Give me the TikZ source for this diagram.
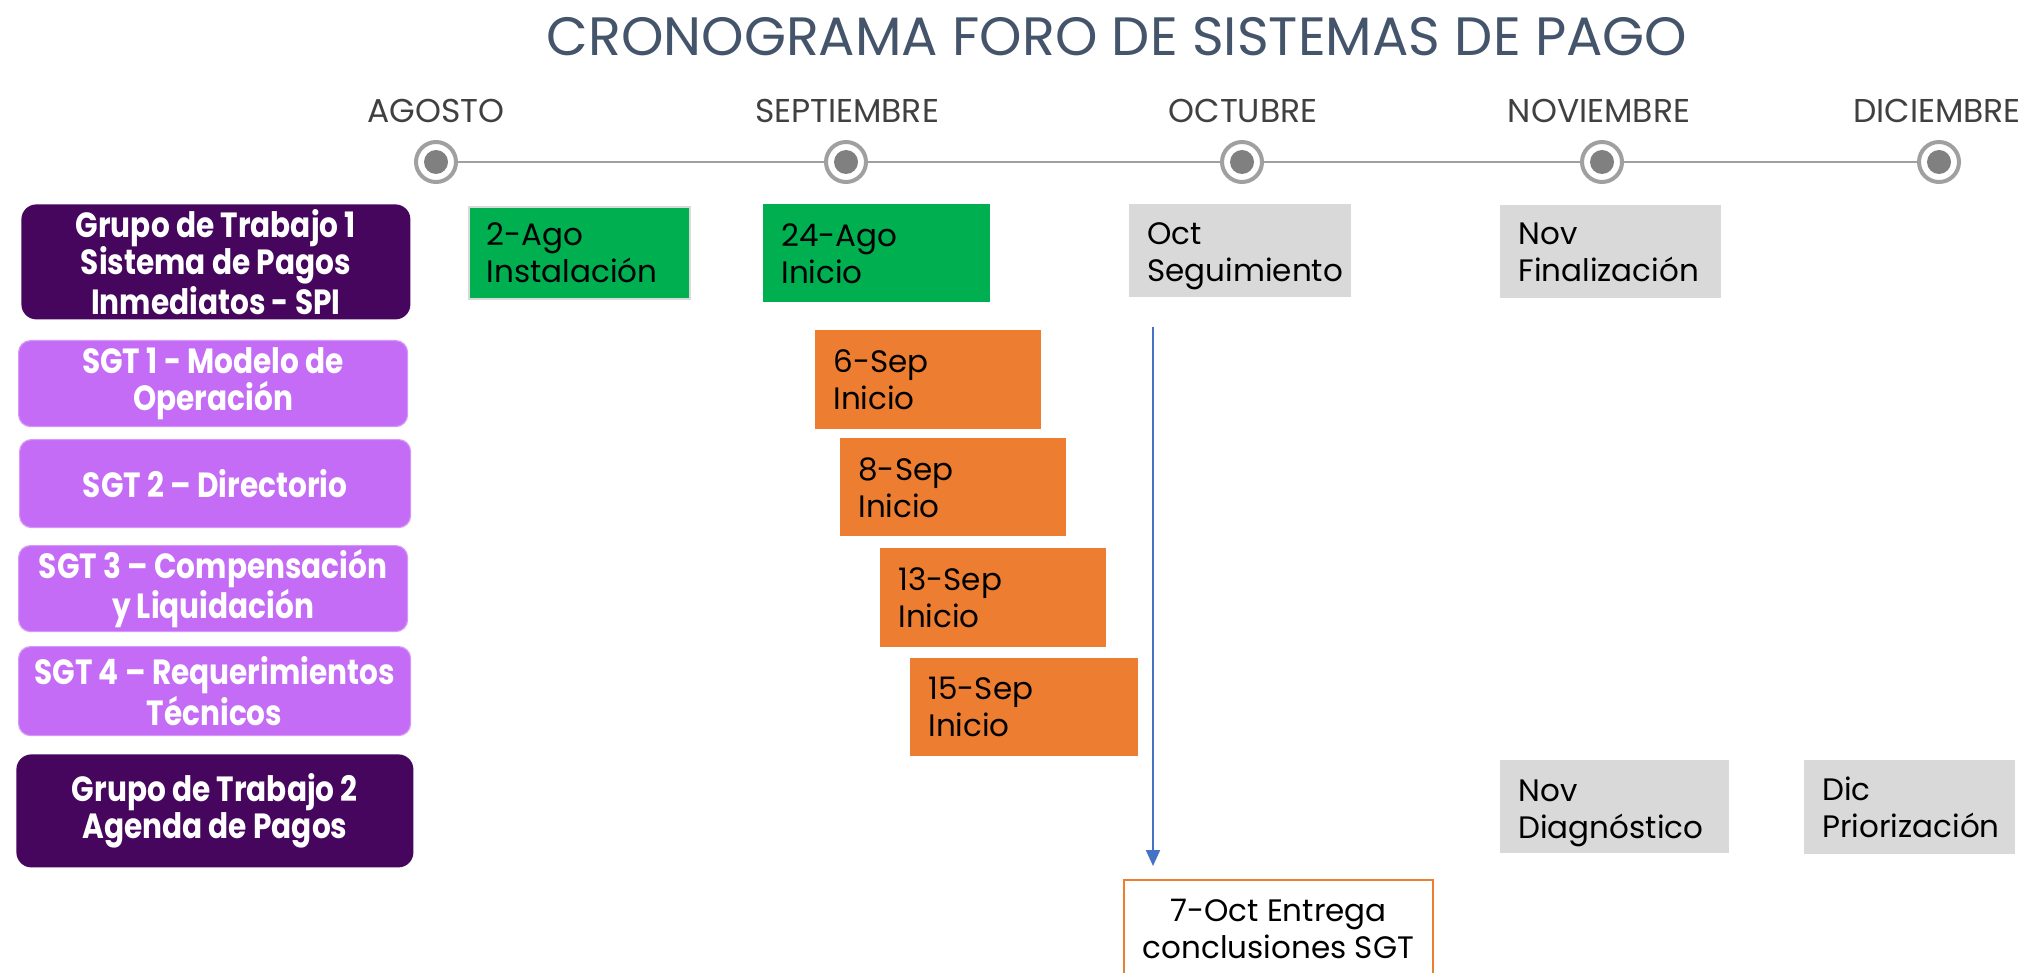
\documentclass[tikz,border=0pt]{standalone}
\usepackage{fontspec}
\setmainfont{Poppins}
\newfontfamily\condfont{Poppins}[FakeStretch=0.845]
\usetikzlibrary{arrows.meta}
\definecolor{dpurple}{HTML}{46065E}
\definecolor{lpurple}{HTML}{C46CF5}
\definecolor{ggreen}{HTML}{00B050}
\definecolor{oorange}{HTML}{ED7D31}
\definecolor{lgray}{HTML}{D9D9D9}
\definecolor{tblue}{HTML}{4472C4}
\definecolor{titlec}{HTML}{44546A}
\definecolor{monthc}{HTML}{404040}
\definecolor{ringc}{HTML}{A0A0A0}
\definecolor{dotc}{HTML}{808080}
\tikzset{
  grp/.style={anchor=north west, inner sep=0pt, align=center, text=white,
    font=\condfont\bfseries\fontsize{17.5}{18.75}\selectfont},
  darkgrp/.style={grp, fill=dpurple, rounded corners=7.5pt},
  lightgrp/.style={grp, fill=lpurple, draw=lpurple!70!white, line width=0.6pt, rounded corners=6pt},
  evt/.style={anchor=north west, align=left, inner xsep=9pt, inner ysep=0pt, text=black,
    font=\fontsize{15.5}{18.5}\selectfont},
  greenbox/.style={evt, fill=ggreen},
  orangebox/.style={evt, fill=oorange},
  graybox/.style={evt, fill=lgray},
  month/.style={anchor=base, text=monthc, font=\fontsize{16.5}{20}\selectfont},
  conn/.style={draw=tblue, line width=1pt, -{Triangle[length=8pt,width=7pt]}},
}
\begin{document}
\begin{tikzpicture}[x=0.5pt,y=-0.5pt]
\clip (0,0) rectangle (2035,973);
\fill[white] (0,0) rectangle (2035,973);

% title
\node[anchor=base, text=titlec, font=\fontsize{27}{32}\selectfont] (title) at (1117,56) {CRONOGRAMA FORO DE SISTEMAS DE PAGO};

% timeline
\coordinate (t1) at (436,162);
\coordinate (t2) at (846,162);
\coordinate (t3) at (1242,162);
\coordinate (t4) at (1602,162);
\coordinate (t5) at (1939,162);
\draw[ringc, line width=1pt] (t1) -- (t5);
\foreach \c in {t1,t2,t3,t4,t5}{
  \node[circle, draw=ringc, line width=2pt, fill=white, minimum size=20pt, inner sep=0pt] (r\c) at (\c) {};
  \fill[dotc] (\c) circle (6pt);
}
\node[month] (m1) at (436,123) {AGOSTO};
\node[month] (m2) at (847,123) {SEPTIEMBRE};
\node[month] (m3) at (1243,123) {OCTUBRE};
\node[month] (m4) at (1599,123) {NOVIEMBRE};
\node[month] (m5) at (1937,123) {DICIEMBRE};

% left labels
\node[darkgrp, minimum width=194.5pt, minimum height=57.5pt] (gt1) at (21,204) {Grupo de Trabajo 1\\Sistema de Pagos\\Inmediatos - SPI};
\node[lightgrp, minimum width=194.5pt, minimum height=43pt] (sgt1) at (18,340) {SGT 1 - Modelo de\\Operación};
\node[lightgrp, minimum width=195.5pt, minimum height=44pt] (sgt2) at (19,439) {SGT 2 – Directorio};
\node[lightgrp, minimum width=194.5pt, minimum height=43pt] (sgt3) at (18,545) {SGT 3 – Compensación\\y Liquidación};
\node[lightgrp, minimum width=196pt, minimum height=44.5pt] (sgt4) at (18,646) {SGT 4 – Requerimientos\\Técnicos};
\node[darkgrp, minimum width=198.5pt, minimum height=56.5pt] (gt2) at (16,754) {Grupo de Trabajo 2\\Agenda de Pagos};

% events row 1
\node[greenbox, draw=lgray, line width=0.8pt, text width=92.5pt, minimum height=46pt] (g1) at (468,206) {2-Ago\\Instalación};
\node[greenbox, text width=95.5pt, minimum height=49pt] (g2) at (763,204) {24-Ago\\Inicio};
\node[graybox, text width=93pt, minimum height=46.5pt] (oc) at (1129,204) {\rule{0pt}{16.5pt}Oct\\Seguimiento};
\node[graybox, text width=92.5pt, minimum height=46.5pt] (nf) at (1500,205) {Nov\\Finalización};

% SGT starts
\node[orangebox, text width=95pt, minimum height=49.5pt] (s1) at (815,330) {6-Sep\\Inicio};
\node[orangebox, text width=95pt, minimum height=49pt] (s2) at (840,438) {8-Sep\\Inicio};
\node[orangebox, text width=95pt, minimum height=49.5pt] (s3) at (880,548) {13-Sep\\Inicio};
\node[orangebox, text width=96pt, minimum height=49pt] (s4) at (910,658) {15-Sep\\Inicio};

% GT2 events
\node[graybox, text width=96.5pt, minimum height=46.5pt] (nd) at (1500,760) {\rule{0pt}{17pt}Nov\\Diagnóstico};
\node[graybox, text width=87.5pt, minimum height=47pt] (dp) at (1804,760) {Dic\\Priorización};

% delivery
\node[anchor=north west, draw=oorange, line width=1pt, fill=white, minimum width=154.5pt, minimum height=49pt,
  align=center, inner sep=0pt, font=\fontsize{15.5}{18.5}\selectfont] (ent) at (1123,879) {7-Oct Entrega\\conclusiones SGT};
\coordinate (astart) at (1153,327);
\draw[conn, shorten >=6.5pt] (astart) -- (astart |- ent.north);
\end{tikzpicture}
\end{document}
